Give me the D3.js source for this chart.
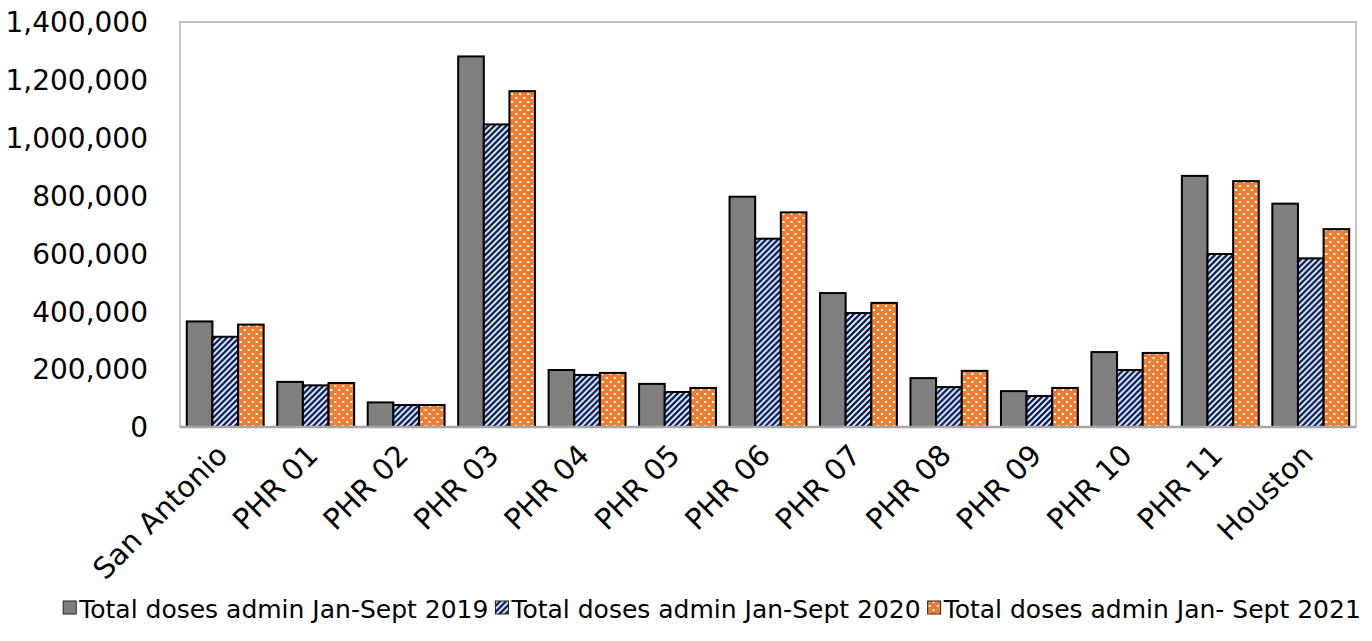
<!DOCTYPE html>
<html>
<head>
<meta charset="utf-8">
<script src="https://cdn.jsdelivr.net/npm/d3@7"></script>
<style>
  html, body { margin: 0; padding: 0; background: #ffffff; }
  svg { display: block; font-family: "DejaVu Sans", Verdana, sans-serif; }
</style>
</head>
<body>
<svg id="chart" width="1372" height="641"></svg>
<script>
// Regions shown along the x axis
const regions = ["San Antonio", "PHR 01", "PHR 02", "PHR 03", "PHR 04", "PHR 05", "PHR 06",
                 "PHR 07", "PHR 08", "PHR 09", "PHR 10", "PHR 11", "Houston"];

// Series names
const seriesNames = ["Total doses admin Jan-Sept 2019",
                     "Total doses admin Jan-Sept 2020",
                     "Total doses admin Jan- Sept 2021"];

// Doses administered per region
const doses2019 = [365000, 156000, 85000, 1281000, 197000, 149000, 796000, 463000, 169000, 124000, 259000, 868000, 772000];
const doses2020 = [312000, 144000, 76000, 1046000, 180000, 121000, 651000, 394000, 138000, 107000, 197000, 598000, 583000];
const doses2021 = [354000, 152000, 76000, 1161000, 187000, 135000, 742000, 429000, 194000, 135000, 256000, 850000, 684000];

// Y axis ticks
const yTicks = [0, 200000, 400000, 600000, 800000, 1000000, 1200000, 1400000];

const seriesValues = [doses2019, doses2020, doses2021];
const fills = ["#7f7f7f", "url(#stripes)", "url(#dots)"];

const svg = d3.select("#chart");
const plot = { left: 180, right: 1356, top: 22, bottom: 427 };
const FONT = "DejaVu Sans, Verdana, sans-serif";

// Patterns: navy upward diagonal stripes and white dots on orange
const defs = svg.append("defs");
const stripes = defs.append("pattern")
  .attr("id", "stripes").attr("patternUnits", "userSpaceOnUse")
  .attr("width", 6).attr("height", 6);
stripes.append("rect").attr("width", 6).attr("height", 6).attr("fill", "#ffffff");
stripes.append("path")
  .attr("d", "M-1,7 L7,-1 M-4,4 L4,-4 M2,10 L10,2")
  .attr("stroke", "#0a2466").attr("stroke-width", 2.6);

const dots = defs.append("pattern")
  .attr("id", "dots").attr("patternUnits", "userSpaceOnUse")
  .attr("width", 8).attr("height", 8);
dots.append("rect").attr("width", 8).attr("height", 8).attr("fill", "#ed7d31");
dots.append("rect").attr("x", 1).attr("y", 1).attr("width", 2).attr("height", 2).attr("fill", "#ffffff");
dots.append("rect").attr("x", 5).attr("y", 5).attr("width", 2).attr("height", 2).attr("fill", "#ffffff");

// Scales
const x0 = d3.scaleBand().domain(regions).range([plot.left, plot.right]).paddingInner(0.15).paddingOuter(0.075);
const x1 = d3.scaleBand().domain(d3.range(3)).range([0, x0.bandwidth()]);
const y = d3.scaleLinear().domain([0, 1400000]).range([plot.bottom, plot.top]);

// Plot area frame
svg.append("rect")
  .attr("x", plot.left).attr("y", plot.top)
  .attr("width", plot.right - plot.left).attr("height", plot.bottom - plot.top)
  .attr("fill", "none").attr("stroke", "#b2aeae").attr("stroke-width", 1.5);

// Bars
const groups = svg.append("g").selectAll("g")
  .data(regions).join("g")
  .attr("transform", d => `translate(${x0(d)},0)`);

groups.selectAll("rect")
  .data((d, i) => seriesValues.map((vals, s) => ({ s, v: vals[i] })))
  .join("rect")
  .attr("x", d => x1(d.s))
  .attr("y", d => y(d.v))
  .attr("width", x1.bandwidth())
  .attr("height", d => y(0) - y(d.v))
  .attr("fill", d => fills[d.s])
  .attr("stroke", "#000000").attr("stroke-width", 2);

// Bottom axis line
svg.append("line")
  .attr("x1", plot.left).attr("x2", plot.right)
  .attr("y1", plot.bottom).attr("y2", plot.bottom)
  .attr("stroke", "#a6a6a6").attr("stroke-width", 2.5);

// Y axis labels
const yAxis = d3.axisLeft(y).tickValues(yTicks).tickSize(0).tickPadding(0)
  .tickFormat(d3.format(","));
const yG = svg.append("g").attr("transform", `translate(${plot.left - 32},0)`).call(yAxis);
yG.select(".domain").remove();
yG.selectAll("text").attr("font-size", 28).attr("fill", "#000").attr("dy", "0.35em")
  .attr("font-family", FONT);

// X axis labels, rotated
const xAxis = d3.axisBottom(x0).tickSize(0).tickPadding(0);
const xG = svg.append("g").attr("transform", `translate(0,${plot.bottom})`).call(xAxis);
xG.select(".domain").remove();
xG.selectAll("text")
  .attr("font-size", 29).attr("fill", "#000")
  .attr("font-family", FONT)
  .attr("text-anchor", "end")
  .attr("dy", 0)
  .attr("y", 0)
  .attr("transform", "translate(4,30) rotate(-45)");

// Legend
const legend = svg.append("g").attr("font-size", 25);
const items = legend.selectAll("g").data(seriesNames).join("g");
items.append("rect")
  .attr("width", 13).attr("height", 13).attr("y", -11)
  .attr("fill", (d, i) => fills[i])
  .attr("stroke", "#222").attr("stroke-width", 1);
items.append("text")
  .attr("x", 16).attr("y", 0).attr("dy", "0.25em")
  .attr("font-family", FONT)
  .text(d => d);
const widths = [];
items.each(function () {
  const t = d3.select(this).select("text").node().getComputedTextLength();
  widths.push(16 + t);
});
const gap = 7;
const total = d3.sum(widths) + gap * (widths.length - 1);
let startX = 712 - total / 2;
items.attr("transform", (d, i) => {
  const tx = startX;
  startX += widths[i] + gap;
  return `translate(${tx},612)`;
});
</script>
</body>
</html>
